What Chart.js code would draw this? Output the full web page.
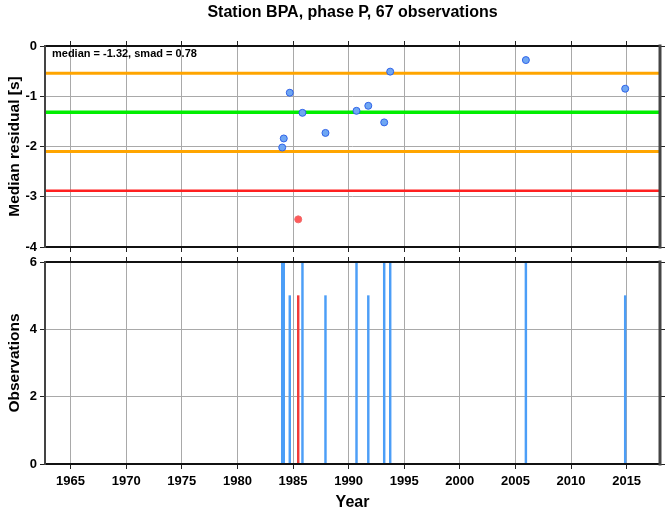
<!DOCTYPE html>
<html><head><meta charset="utf-8">
<script src="https://cdn.jsdelivr.net/npm/chart.js@4.4.0/dist/chart.umd.min.js"></script>
<style>
html,body{margin:0;padding:0;background:#fff;}
#wrap{position:relative;width:666px;height:511px;overflow:hidden;background:#fff;}
canvas{position:absolute;left:0;}
#c1{top:0;}
#c2{top:248px;}
</style></head><body>
<div id="wrap"><canvas id="c1" width="666" height="258"></canvas><canvas id="c2" width="666" height="263"></canvas></div>
<script>
const titleText = 'Station BPA, phase P, 67 observations';
const statsText = 'median = -1.32, smad = 0.78';
const years     = [1984.03, 1984.17, 1984.71, 1985.47, 1985.85, 1987.92, 1990.71, 1991.77, 1993.20, 1993.74, 2005.94, 2014.87];
const residuals = [-2.02,   -1.84,   -0.93,   -3.45,   -1.33,   -1.73,   -1.29,   -1.19,   -1.52,   -0.51,   -0.28,   -0.85];
const counts    = [6,       6,       5,       5,       6,       5,       6,       5,       6,       6,       6,       5];
const outlier   = [false,   false,   false,   true,    false,   false,   false,   false,   false,   false,   false,   false];
const medianVal = -1.32;
const smadVal = 0.78;
const yearTicks = [1965, 1970, 1975, 1980, 1985, 1990, 1995, 2000, 2005, 2010, 2015];
const residualTicks = [0, -1, -2, -3, -4];
const countTicks = [0, 2, 4, 6];
const yearMin = 1962.7, yearMax = 2018.0;

const FONT = '"Liberation Sans", Arial, Helvetica, sans-serif';
const GRID = '#a9a9a9';
const TICKC = '#222';

function setTicks(vals){ return s => { s.ticks = vals.map(v => ({value: v})); }; }
const plain = v => String(v);

const framePlugin = {
  id: 'frame',
  afterDraw(chart){
    const {ctx, chartArea: a} = chart;
    ctx.save();
    ctx.lineCap = 'square';
    ctx.strokeStyle = '#111'; ctx.lineWidth = 2;
    ctx.beginPath(); ctx.moveTo(a.left, a.top); ctx.lineTo(a.right, a.top);
    ctx.moveTo(a.left, a.bottom); ctx.lineTo(a.right, a.bottom); ctx.stroke();
    ctx.strokeStyle = '#444';
    ctx.beginPath(); ctx.moveTo(a.left, a.top); ctx.lineTo(a.left, a.bottom); ctx.stroke();
    ctx.lineWidth = 3;
    ctx.beginPath(); ctx.moveTo(a.right, a.top); ctx.lineTo(a.right, a.bottom); ctx.stroke();
    ctx.restore();
  }
};

const textPlugin = {
  id: 'texts',
  afterDraw(chart){
    const {ctx, chartArea: a} = chart;
    ctx.save();
    ctx.fillStyle = '#000';
    ctx.font = 'bold 16px ' + FONT;
    ctx.textAlign = 'center'; ctx.textBaseline = 'middle';
    ctx.fillText(titleText, (a.left + a.right) / 2, 13);
    ctx.font = 'bold 11px ' + FONT;
    ctx.textAlign = 'left';
    ctx.fillText(statsText, a.left + 7, a.top + 8);
    ctx.restore();
  }
};

function hline(y, color, w){
  return {type: 'line', data: [{x: yearMin, y: y}, {x: yearMax, y: y}], borderColor: color,
          borderWidth: w, pointRadius: 0, fill: false};
}

const axisTitleFont = {family: FONT, weight: 'bold', size: 15.5};
const tickFont = {family: FONT, weight: 'bold', size: 13};

new Chart(document.getElementById('c1'), {
  type: 'scatter',
  data: {datasets: [
    {type: 'scatter', data: years.map((x, i) => ({x: x, y: residuals[i]})),
     pointRadius: 3.5, pointBorderWidth: 1,
     pointBackgroundColor: outlier.map(o => o ? '#ff5a5a' : '#6fa7f3'),
     pointBorderColor: outlier.map(o => o ? '#f06a6a' : '#2f62e8')},
    hline(medianVal + smadVal, '#ffa500', 3),
    hline(medianVal, '#00ee00', 3.5),
    hline(medianVal - smadVal, '#ffa500', 3),
    hline(medianVal - 2 * smadVal, '#ff2020', 2.5)
  ]},
  options: {
    responsive: false, animation: false, devicePixelRatio: 1,
    layout: {padding: 0},
    plugins: {legend: {display: false}, tooltip: {enabled: false}, title: {display: false}},
    scales: {
      x: {type: 'linear', position: 'bottom', min: yearMin, max: yearMax,
          afterBuildTicks: setTicks(yearTicks), afterFit: s => { s.height = 11; },
          ticks: {display: false}, border: {display: false},
          grid: {color: GRID, tickColor: TICKC, tickLength: 5, lineWidth: 1}},
      xt: {type: 'linear', position: 'top', min: yearMin, max: yearMax,
          afterBuildTicks: setTicks(yearTicks), afterFit: s => { s.height = 46; },
          ticks: {display: false}, border: {display: false},
          grid: {drawOnChartArea: false, tickColor: TICKC, tickLength: 5}},
      y: {type: 'linear', position: 'left', min: -4, max: 0,
          afterBuildTicks: setTicks(residualTicks), afterFit: s => { s.width = 45; },
          ticks: {font: tickFont, color: '#000', padding: 3, callback: plain},
          border: {display: false},
          grid: {color: GRID, tickColor: TICKC, tickLength: 5},
          title: {display: true, text: 'Median residual [s]', font: axisTitleFont, color: '#000', padding: {top: 5, bottom: 0}}},
      yr: {type: 'linear', position: 'right', min: -4, max: 0,
          afterBuildTicks: setTicks(residualTicks), afterFit: s => { s.width = 6; },
          ticks: {display: false}, border: {display: false},
          grid: {drawOnChartArea: false, tickColor: TICKC, tickLength: 5}}
    }
  },
  plugins: [framePlugin, textPlugin]
});

new Chart(document.getElementById('c2'), {
  type: 'bar',
  data: {datasets: [
    {data: years.map((x, i) => ({x: x, y: counts[i]})),
     backgroundColor: outlier.map(o => o ? '#f23a3a' : '#4c9ef7'),
     barThickness: 1.8, borderWidth: 0}
  ]},
  options: {
    responsive: false, animation: false, devicePixelRatio: 1,
    layout: {padding: 0},
    plugins: {legend: {display: false}, tooltip: {enabled: false}},
    scales: {
      x: {type: 'linear', position: 'bottom', min: yearMin, max: yearMax, offset: false,
          afterBuildTicks: setTicks(yearTicks), afterFit: s => { s.height = 47; },
          ticks: {font: tickFont, color: '#000', padding: 5, maxRotation: 0, callback: plain},
          border: {display: false},
          grid: {color: GRID, tickColor: TICKC, tickLength: 5, offset: false},
          title: {display: true, text: 'Year', font: {family: FONT, weight: 'bold', size: 16}, color: '#000', padding: {top: 0, bottom: -1}}},
      xt: {type: 'linear', position: 'top', min: yearMin, max: yearMax, offset: false,
          afterBuildTicks: setTicks(yearTicks), afterFit: s => { s.height = 14; },
          ticks: {display: false}, border: {display: false},
          grid: {drawOnChartArea: false, tickColor: TICKC, tickLength: 5, offset: false}},
      y: {type: 'linear', position: 'left', min: 0, max: 6,
          afterBuildTicks: setTicks(countTicks), afterFit: s => { s.width = 45; },
          ticks: {font: tickFont, color: '#000', padding: 3, callback: plain},
          border: {display: false},
          grid: {color: GRID, tickColor: TICKC, tickLength: 5},
          title: {display: true, text: 'Observations', font: axisTitleFont, color: '#000', padding: {top: 5, bottom: 0}}},
      yr: {type: 'linear', position: 'right', min: 0, max: 6,
          afterBuildTicks: setTicks(countTicks), afterFit: s => { s.width = 6; },
          ticks: {display: false}, border: {display: false},
          grid: {drawOnChartArea: false, tickColor: TICKC, tickLength: 5}}
    }
  },
  plugins: [framePlugin]
});
</script>
</body></html>
